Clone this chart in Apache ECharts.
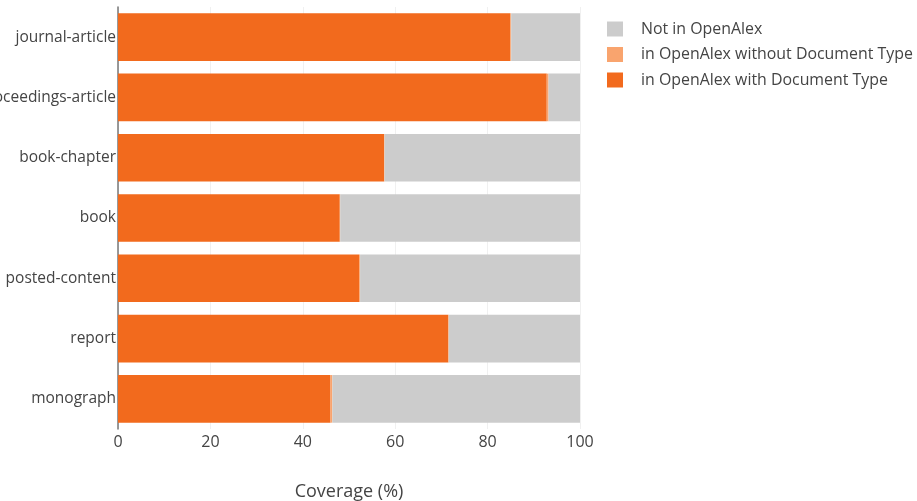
<!DOCTYPE html>
<html>
<head>
<meta charset="utf-8">
<script src="https://cdn.jsdelivr.net/npm/echarts@6/dist/echarts.min.js"></script>
<style>
html,body{margin:0;padding:0;background:#fff;}
#c{width:917px;height:501px;}
</style>
</head>
<body>
<div id="c"></div>
<script>
const categories = ['journal-article','proceedings-article','book-chapter','book','posted-content','report','monograph'];
const withDocType = [84.9, 92.8, 57.6, 48.0, 52.2, 71.5, 46.0];
const withoutDocType = [0.2, 0.4, 0.1, 0.1, 0.2, 0.1, 0.4];
const notInOpenAlex = [14.9, 6.8, 42.3, 51.9, 47.6, 28.4, 53.6];
const xTicks = [0, 20, 40, 60, 80, 100];

const font = '"Open Sans", "Noto Sans", sans-serif';
const chart = echarts.init(document.getElementById('c'), null, {renderer:'canvas'});
chart.setOption({
  animation: false,
  textStyle: {fontFamily: font},
  grid: {left: 118, right: 337, top: 7, bottom: 72, containLabel: false, outerBoundsMode: 'none'},
  legend: {
    orient: 'vertical', left: 602, top: 16,
    itemWidth: 16, itemHeight: 15, itemGap: 9.5,
    icon: 'rect',
    textStyle: {fontFamily: font, fontSize: 15.9, color: '#444', padding: [0, 0, 0, 13]},
    data: ['Not in OpenAlex', 'in OpenAlex without Document Type', 'in OpenAlex with Document Type']
  },
  xAxis: {
    type: 'value', min: xTicks[0], max: xTicks[xTicks.length-1], interval: 20,
    name: 'Coverage (%)', nameLocation: 'middle', nameGap: 54,
    nameTextStyle: {fontFamily: font, fontSize: 18, color: '#444'},
    axisLabel: {fontFamily: font, fontSize: 16, color: '#444', margin: 5},
    axisLine: {show: false}, axisTick: {show: false},
    splitLine: {show: true, lineStyle: {color: '#f0f0f0', width: 1}}
  },
  yAxis: {
    type: 'category', data: categories, inverse: true,
    axisLabel: {fontFamily: font, fontSize: 15.5, color: '#444', margin: 2},
    axisLine: {show: true, lineStyle: {color: '#777', width: 1.5}},
    axisTick: {show: false}
  },
  series: [
    {name: 'in OpenAlex with Document Type', type: 'bar', stack: 'a', data: withDocType,
     itemStyle: {color: '#f26a1d'}, barCategoryGap: '21%'},
    {name: 'in OpenAlex without Document Type', type: 'bar', stack: 'a', data: withoutDocType,
     itemStyle: {color: '#f9a46e'}},
    {name: 'Not in OpenAlex', type: 'bar', stack: 'a', data: notInOpenAlex,
     itemStyle: {color: '#cccccc'}}
  ]
});
</script>
</body>
</html>
